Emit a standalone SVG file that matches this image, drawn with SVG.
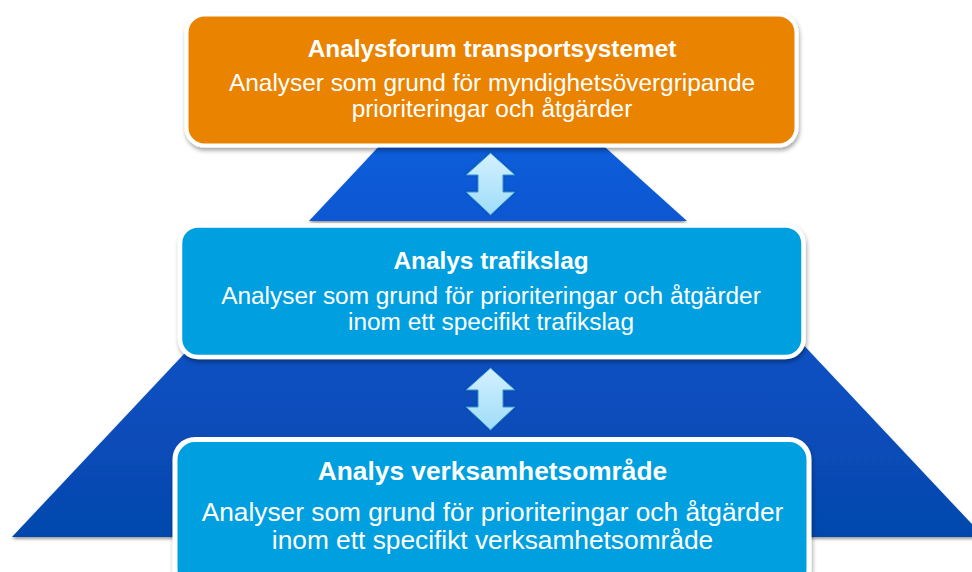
<svg xmlns="http://www.w3.org/2000/svg" width="972" height="572" viewBox="0 0 972 572">
  <defs>
    <linearGradient id="pyr" gradientUnits="userSpaceOnUse" x1="0" y1="140" x2="0" y2="537">
      <stop offset="0" stop-color="#0a5cdb"/>
      <stop offset="1" stop-color="#0647ad"/>
    </linearGradient>
    <linearGradient id="arr" x1="0" y1="0" x2="0" y2="1">
      <stop offset="0" stop-color="#d4f1ff"/>
      <stop offset="1" stop-color="#9edcf8"/>
    </linearGradient>
    <filter id="shadow" x="-5%" y="-10%" width="110%" height="130%">
      <feDropShadow dx="1" dy="3" stdDeviation="2" flood-color="#000" flood-opacity="0.35"/>
    </filter>
    <filter id="pshadow" x="-5%" y="-10%" width="110%" height="130%">
      <feDropShadow dx="0" dy="2" stdDeviation="1.5" flood-color="#000" flood-opacity="0.4"/>
    </filter>
    <filter id="glow" x="-30%" y="-30%" width="160%" height="160%">
      <feDropShadow dx="0" dy="0" stdDeviation="1.2" flood-color="#0a3f9a" flood-opacity="0.9"/>
    </filter>
    <style>
      .band { fill: url(#pyr); filter: url(#pshadow); }
      .box { stroke: #ffffff; filter: url(#shadow); }
      .orange { fill: #e98300; }
      .cyan { fill: #00a0e0; }
      .t { font-family: "Liberation Sans", Arial, sans-serif; fill: #ffffff; text-anchor: middle; }
      .b { font-weight: bold; }
      .arrow { fill: url(#arr); stroke: #2c8fd4; stroke-width: 1; filter: url(#glow); }
    </style>
  </defs>

  <g id="pyramid">
    <polygon class="band" points="384.9,140 597.1,140 687,221 309,221"/>
    <polygon class="band" points="303.4,227 692.6,227 984,537 12,537"/>
  </g>

  <g id="connectors">
    <path class="arrow" d="M490.5,153 L515,175 L503,175 L503,192 L515,192 L490.5,215 L466,192 L478,192 L478,175 L466,175 Z"/>
    <path class="arrow" transform="translate(0,215)" d="M490.5,153 L515,175 L503,175 L503,192 L515,192 L490.5,215 L466,192 L478,192 L478,175 L466,175 Z"/>
  </g>

  <g id="node-top">
    <rect class="box orange" x="186.5" y="14.5" width="610" height="131" rx="18" stroke-width="4"/>
    <text class="t b" x="492" y="57" font-size="24.4">Analysforum transportsystemet</text>
    <text class="t" x="492" y="91" font-size="24.4">Analyser som grund för myndighetsövergripande</text>
    <text class="t" x="492" y="117" font-size="24.4">prioriteringar och åtgärder</text>
  </g>

  <g id="node-middle">
    <rect class="box cyan" x="180" y="225.5" width="623.5" height="131.5" rx="18" stroke-width="4.5"/>
    <text class="t b" x="491" y="269" font-size="24.4">Analys trafikslag</text>
    <text class="t" x="491" y="304" font-size="24.4">Analyser som grund för prioriteringar och åtgärder</text>
    <text class="t" x="491" y="330" font-size="24.4">inom ett specifikt trafikslag</text>
  </g>

  <g id="node-bottom">
    <rect class="box cyan" x="175" y="439.5" width="634" height="150" rx="20" stroke-width="5"/>
    <text class="t b" x="492.5" y="480" font-size="26.3">Analys verksamhetsområde</text>
    <text class="t" x="492.5" y="521" font-size="26.3">Analyser som grund för prioriteringar och åtgärder</text>
    <text class="t" x="492.5" y="549" font-size="26.3">inom ett specifikt verksamhetsområde</text>
  </g>
</svg>
